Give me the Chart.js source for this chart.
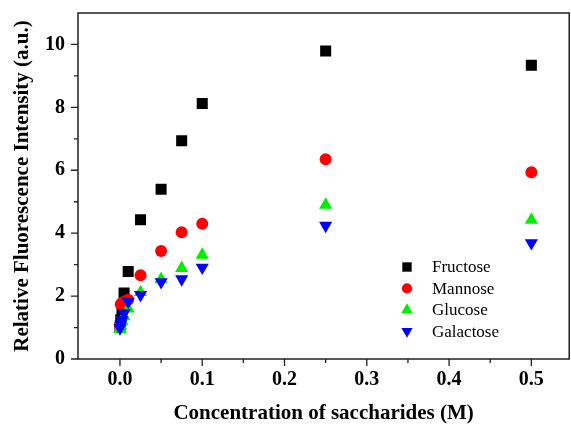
<!DOCTYPE html>
<html>
<head>
<meta charset="utf-8">
<script src="https://cdn.jsdelivr.net/npm/chart.js@4"></script>
<style>
  html, body { margin: 0; padding: 0; background: #fff; overflow: hidden; }
  #wrap { width: 577px; height: 426px; }
</style>
</head>
<body>
<div id="wrap"><canvas id="fluo-chart"></canvas></div>
<script>
// concentrations (M) shared by all sugars
const conc = [0, 0.001, 0.0025, 0.005, 0.01, 0.025, 0.05, 0.075, 0.1, 0.25, 0.5]

const fructose = [1.0, 1.25, 1.48, 2.1, 2.78, 4.43, 5.4, 6.94, 8.12, 9.79, 9.34]
const mannose = [1.05, 1.74, 1.78, 1.82, 1.88, 2.66, 3.43, 4.03, 4.30, 6.35, 5.94]
const glucose = [0.95, 1.05, 1.2, 1.35, 1.6, 2.12, 2.54, 2.89, 3.31, 4.9, 4.42]
const galactose = [0.98, 1.1, 1.24, 1.46, 1.83, 2.04, 2.45, 2.54, 2.91, 4.24, 3.69]

const names = ['Fructose', 'Mannose', 'Glucose', 'Galactose']

const xTicks = [0, 0.1, 0.2, 0.3, 0.4, 0.5]
const xMinor = [0.05, 0.15, 0.25, 0.35, 0.45]
const yTicks = [0, 2, 4, 6, 8, 10]
const yMinor = [1, 3, 5, 7, 9]

const FONT = '"Liberation Serif", "Times New Roman", serif'

function toPoints(ys) {
    return conc.map((c, i) => ({ x: c, y: ys[i] }))
}

const styles = [
    { color: '#000000', pointStyle: 'rect', radius: 7.8, rotation: 0 },
    { color: '#ff0000', pointStyle: 'circle', radius: 6, rotation: 0 },
    { color: '#00ee00', pointStyle: 'triangle', radius: 7.6, rotation: 0 },
    { color: '#0000ff', pointStyle: 'triangle', radius: 7.6, rotation: 180 }
]

const series = [fructose, mannose, glucose, galactose]

const datasets = series.map((ys, i) => ({
    label: names[i],
    data: toPoints(ys),
    pointStyle: styles[i].pointStyle,
    pointRadius: styles[i].radius,
    pointRotation: styles[i].rotation,
    backgroundColor: styles[i].color,
    borderColor: styles[i].color,
    borderWidth: 0,
    order: 4 - i
}))

// frame, outward ticks (major + minor) and the inset legend
const frameAndLegend = {
    id: 'frameAndLegend',
    afterDraw(chart) {
        const ctx = chart.ctx
        const area = chart.chartArea
        const xs = chart.scales.x
        const ys = chart.scales.y
        ctx.save()
        ctx.strokeStyle = '#222'
        ctx.lineWidth = 1.5
        ctx.strokeRect(area.left, area.top, area.right - area.left, area.bottom - area.top)

        ctx.lineWidth = 1.3
        ctx.beginPath()
        yTicks.forEach(v => {
            let p = ys.getPixelForValue(v)
            ctx.moveTo(area.left, p); ctx.lineTo(area.left - 7, p)
        })
        yMinor.forEach(v => {
            let p = ys.getPixelForValue(v)
            ctx.moveTo(area.left, p); ctx.lineTo(area.left - 4, p)
        })
        xTicks.forEach(v => {
            let p = xs.getPixelForValue(v)
            ctx.moveTo(p, area.bottom); ctx.lineTo(p, area.bottom + 7)
        })
        xMinor.forEach(v => {
            let p = xs.getPixelForValue(v)
            ctx.moveTo(p, area.bottom); ctx.lineTo(p, area.bottom + 4)
        })
        ctx.stroke()

        // legend
        let lx = 407, ly = 267, step = 21.4
        ctx.font = '17px ' + FONT
        ctx.textBaseline = 'middle'
        ctx.textAlign = 'left'
        names.forEach((n, i) => {
            let y = ly + i * step
            ctx.fillStyle = styles[i].color
            ctx.strokeStyle = styles[i].color
            Chart.helpers.drawPoint(ctx, {
                pointStyle: styles[i].pointStyle,
                radius: styles[i].radius * 0.85,
                rotation: styles[i].rotation,
                borderWidth: 0
            }, lx, y)
            ctx.fillStyle = '#000'
            ctx.fillText(n, 432, y + 1)
        })
        ctx.restore()
    }
}

function buildChart() {
    let canvas = document.getElementById('fluo-chart')
    new Chart(canvas, {
        type: 'scatter',
        data: { datasets: datasets },
        options: {
            responsive: true,
            maintainAspectRatio: false,
            animation: false,
            layout: { padding: { top: 13, right: 2, left: 0, bottom: 0 } },
            scales: {
                x: {
                    type: 'linear',
                    min: -0.051,
                    max: 0.546,
                    afterBuildTicks: s => { s.ticks = xTicks.map(v => ({ value: v })) },
                    afterFit: s => {
                        s.height = 67
                        s.paddingLeft = 0
                        s.paddingRight = 0
                    },
                    grid: { display: true, drawOnChartArea: false, color: 'rgba(0,0,0,0)', tickLength: 7 },
                    border: { display: false },
                    ticks: {
                        color: '#000',
                        padding: 2,
                        maxRotation: 0,
                        font: { family: FONT, size: 20, weight: 'bold' },
                        callback: v => v.toFixed(1)
                    },
                    title: {
                        display: true,
                        text: 'Concentration of saccharides (M)',
                        color: '#000',
                        padding: { top: 0, bottom: 0 },
                        font: { family: FONT, size: 21, weight: 'bold' }
                    }
                },
                y: {
                    min: 0,
                    max: 11,
                    afterBuildTicks: s => { s.ticks = yTicks.map(v => ({ value: v })) },
                    afterFit: s => {
                        s.width = 78
                        s.paddingTop = 0
                        s.paddingBottom = 0
                    },
                    grid: { display: true, drawOnChartArea: false, color: 'rgba(0,0,0,0)', tickLength: 7 },
                    border: { display: false },
                    ticks: {
                        color: '#000',
                        padding: 6,
                        font: { family: FONT, size: 20, weight: 'bold' },
                        callback: v => String(v)
                    },
                    title: {
                        display: true,
                        text: 'Relative Fluorescence Intensity (a.u.)',
                        color: '#000',
                        padding: { top: 10, bottom: 0 },
                        font: { family: FONT, size: 21, weight: 'bold' }
                    }
                }
            },
            plugins: {
                legend: { display: false },
                tooltip: { enabled: false }
            }
        },
        plugins: [frameAndLegend]
    })
}

buildChart()
</script>
</body>
</html>
